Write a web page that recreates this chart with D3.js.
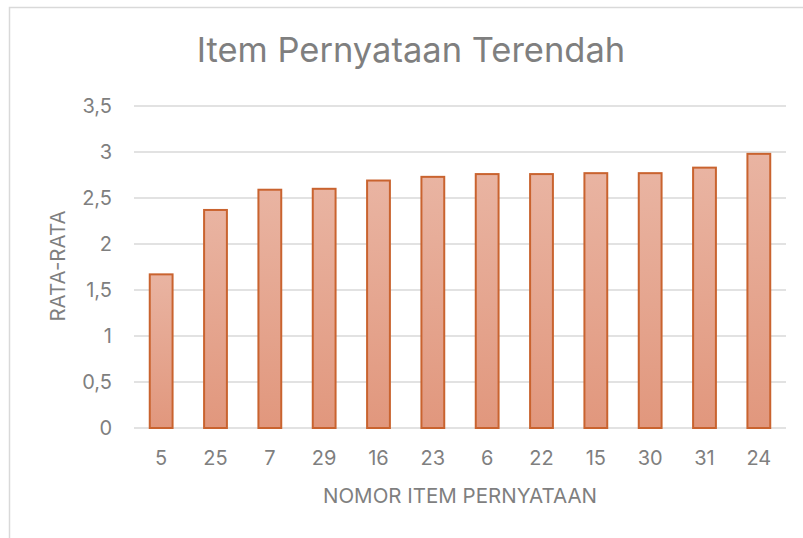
<!DOCTYPE html>
<html>
<head>
<meta charset="utf-8">
<script src="https://cdn.jsdelivr.net/npm/d3@7"></script>
<style>
  body { margin: 0; background: #fff; }
  text { font-family: "Inter", "Roboto", sans-serif; fill: #7f7f7f; }
</style>
</head>
<body>
<svg class="chart" width="803" height="538"></svg>
<script>
var items = ["5", "25", "7", "29", "16", "23", "6", "22", "15", "30", "31", "24"];
var averages = [1.67, 2.37, 2.59, 2.60, 2.69, 2.73, 2.76, 2.76, 2.77, 2.77, 2.83, 2.98];
var yTicks = [0, 0.5, 1, 1.5, 2, 2.5, 3, 3.5];

var margin = {top: 106, right: 17, bottom: 110, left: 134};
var chartWidth = 803 - margin.left - margin.right;
var chartHeight = 538 - margin.top - margin.bottom;

var svg = d3.select(".chart");

// outer chart border
svg.append("rect")
  .attr("x", 9.5).attr("y", 7.5)
  .attr("width", 820).attr("height", 560)
  .attr("fill", "none")
  .attr("stroke", "#d9d9d9")
  .attr("stroke-width", 1.5);

var defs = svg.append("defs");
var grad = defs.append("linearGradient")
  .attr("id", "barGrad")
  .attr("x1", 0).attr("y1", 0).attr("x2", 0).attr("y2", 1);
grad.append("stop").attr("offset", "0%").attr("stop-color", "#e9b4a2");
grad.append("stop").attr("offset", "100%").attr("stop-color", "#e1977d");

var chart = svg.append("g")
  .attr("transform", "translate(" + margin.left + "," + margin.top + ")");

var x = d3.scaleBand().domain(items).range([0, chartWidth]).paddingInner(0.58).paddingOuter(0.29);
var y = d3.scaleLinear().domain([0, 3.5]).range([chartHeight, 0]);

// gridlines
chart.append("g")
  .selectAll("line")
  .data(yTicks)
  .enter().append("line")
  .attr("x1", 0).attr("x2", chartWidth)
  .attr("y1", function(d) { return y(d); })
  .attr("y2", function(d) { return y(d); })
  .attr("stroke", "#d9d9d9")
  .attr("stroke-width", 1.5);

// y axis labels
var yAxis = chart.append("g")
  .call(d3.axisLeft(y).tickValues(yTicks).tickSize(0).tickPadding(22)
    .tickFormat(function(d) { return String(d).replace(".", ","); }));
yAxis.select(".domain").remove();
yAxis.selectAll("text").style("font-size", "20px").attr("fill", "#7f7f7f");

// bars
chart.selectAll(".bar")
  .data(averages)
  .enter().append("rect")
  .attr("class", "bar")
  .attr("x", function(d, i) { return x(items[i]); })
  .attr("y", function(d) { return y(d); })
  .attr("width", x.bandwidth())
  .attr("height", function(d) { return chartHeight - y(d); })
  .attr("fill", "url(#barGrad)")
  .attr("stroke", "#c9632f")
  .attr("stroke-width", 2);

// x axis
var xAxis = chart.append("g")
  .attr("transform", "translate(0," + chartHeight + ")")
  .call(d3.axisBottom(x).tickSize(0).tickPadding(23));
xAxis.select(".domain").remove();
xAxis.selectAll("text").style("font-size", "20px").attr("fill", "#7f7f7f");

// title
svg.append("text")
  .attr("x", 411).attr("y", 62)
  .style("text-anchor", "middle")
  .style("font-size", "34.5px")
  .attr("fill", "#757575")
  .text("Item Pernyataan Terendah");

// axis titles
svg.append("text")
  .attr("x", margin.left + chartWidth / 2).attr("y", 503)
  .style("text-anchor", "middle")
  .style("font-size", "20.5px")
  .text("NOMOR ITEM PERNYATAAN");

svg.append("text")
  .attr("transform", "translate(65,266) rotate(-90)")
  .style("text-anchor", "middle")
  .style("font-size", "20.5px")
  .text("RATA-RATA");
</script>
</body>
</html>
